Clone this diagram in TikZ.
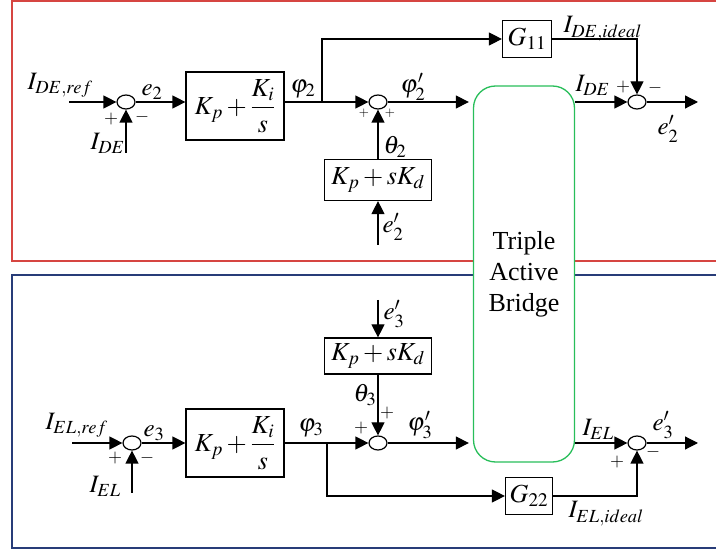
\documentclass[tikz,border=0pt]{standalone}
\usepackage{amsmath}
\usepackage{mathptmx}
\usepackage{fontspec}
\setmainfont{Liberation Serif}
\usetikzlibrary{arrows.meta,shapes.geometric,calc}
\definecolor{redbox}{RGB}{214,69,65}
\definecolor{bluebox}{RGB}{40,60,120}
\definecolor{greenbox}{RGB}{40,190,90}
\begin{document}
\begin{tikzpicture}[x=1pt,y=-1pt, line width=1.2pt,
 sumnode/.style={ellipse,draw,minimum width=18pt,minimum height=14pt,inner sep=0pt},
 blockbox/.style={draw,inner sep=0pt,font=\fontsize{26}{30}\selectfont},
 lbl/.style={font=\fontsize{25}{28}\selectfont,inner sep=0pt,anchor=base west},
 sgn/.style={font=\fontsize{18}{20}\selectfont,inner sep=0pt},
 smallsgn/.style={font=\fontsize{13}{15}\selectfont,inner sep=0pt},
 arr/.style={-{Triangle[length=13pt,width=13pt]}},
 tabbox/.style={draw=greenbox,fill=white,rounded corners=22pt,line width=1.3pt,align=center,font=\fontsize{26}{31}\selectfont}
]
\useasboundingbox (0,0) rectangle (716,553);
% panels
\draw[redbox,line width=1.5pt] (12,1) rectangle (740,261);
\draw[bluebox,line width=1.5pt] (12,275) rectangle (740,548);
% Triple Active Bridge
\node[tabbox,minimum width=101pt,minimum height=376pt] (tab) at (524,274) {Triple\\Active\\Bridge};

%%%%% Top loop
\coordinate (in1) at (69,102);
\node[sumnode] (s1) at (126,102) {};
\coordinate (fb1) at (126,153);
\node[blockbox,minimum width=98pt,minimum height=68pt] (pi1) at (235,106) {$K_p+\dfrac{K_i}{s}$};
\coordinate (b1) at (322,102);
\node[sumnode] (s2) at (378,102) {};
\node[blockbox,minimum width=49pt,minimum height=37pt] (g11) at (527,39) {$G_{11}$};
\node[blockbox,minimum width=107pt,minimum height=41pt] (pd1) at (378,180) {$K_p+sK_d$};
\coordinate (ein1) at (378,245);
\node[sumnode] (s3) at (637,102) {};
\coordinate (out1) at (698,102);

\draw[arr] (in1) -- (s1.west);
\draw[arr] (fb1) -- (s1.south);
\draw[arr] (s1.east) -- (s1 -| pi1.west);
\draw (s1 -| pi1.east) -- (b1);
\draw[arr] (b1) -- (s2.west);
\draw[arr] (b1) -- (b1 |- g11) -- (g11.west);
\draw[arr] (pd1.north) -- (s2.south);
\draw[arr] (ein1) -- (pd1.south);
\draw[arr,shorten >=4pt] (s2.east) -- (s2 -| tab.west);
\draw[arr] (s3 -| tab.east) -- (s3.west);
\draw[arr] (g11.east) -- (g11 -| s3) -- (s3.north);
\draw[arr] (s3.east) -- (out1);

\node[lbl] at (27,90) {$I_{DE,ref}$};
\node[lbl] at (90,150) {$I_{DE}$};
\node[sgn] at (111,119) {$+$};
\node[sgn] at (142,117) {$-$};
\node[lbl] at (141,96) {$e_2$};
\node[lbl] at (290,93) {$\varphi_2$};
\node[lbl] at (400,93) {$\varphi_2'$};
\node[smallsgn] at (364,113) {$+$};
\node[smallsgn] at (390,113) {$+$};
\node[lbl] at (383,154) {$\theta_2$};
\node[lbl] at (382,233) {$e_2'$};
\node[lbl] at (563,33) {$I_{DE,ideal}$};
\node[lbl] at (575,92) {$I_{DE}$};
\node[sgn] at (623,87) {$+$};
\node[sgn] at (655,88) {$-$};
\node[lbl] at (657,135) {$e_2'$};

%%%%% Bottom loop
\coordinate (in2) at (72,443);
\node[sumnode] (s4) at (132,443) {};
\coordinate (fb2) at (132,493);
\node[blockbox,minimum width=98pt,minimum height=68pt] (pi2) at (235,443) {$K_p+\dfrac{K_i}{s}$};
\coordinate (b2) at (327,443);
\node[sumnode] (s5) at (378,443) {};
\node[blockbox,minimum width=47pt,minimum height=37pt] (g22) at (529,496) {$G_{22}$};
\node[blockbox,minimum width=107pt,minimum height=36pt] (pd2) at (378,356) {$K_p+sK_d$};
\coordinate (ein2) at (378,300);
\node[sumnode] (s6) at (637,443) {};
\coordinate (out2) at (698,443);

\draw[arr] (in2) -- (s4.west);
\draw[arr] (fb2) -- (s4.south);
\draw[arr] (s4.east) -- (pi2.west);
\draw (pi2.east) -- (b2);
\draw[arr] (b2) -- (s5.west);
\draw[arr] (b2) -- (b2 |- g22) -- (g22.west);
\draw[arr] (pd2.south) -- (s5.north);
\draw[arr] (ein2) -- (pd2.north);
\draw[arr,shorten >=4pt] (s5.east) -- (s5 -| tab.west);
\draw[arr] (s6 -| tab.east) -- (s6.west);
\draw[arr] (g22.east) -- (g22 -| s6) -- (s6.south);
\draw[arr] (s6.east) -- (out2);

\node[lbl] at (45,430) {$I_{EL,ref}$};
\node[lbl] at (89,493) {$I_{EL}$};
\node[sgn] at (115,458) {$+$};
\node[sgn] at (147,458) {$-$};
\node[lbl] at (143,437) {$e_3$};
\node[lbl] at (298,432) {$\varphi_3$};
\node[lbl] at (407,431) {$\varphi_3'$};
\node[lbl] at (383,320) {$e_3'$};
\node[lbl] at (353,402) {$\theta_3$};
\node[sgn] at (387,413) {$+$};
\node[sgn] at (361,428) {$+$};
\node[lbl] at (582,436) {$I_{EL}$};
\node[lbl] at (652,431) {$e_3'$};
\node[sgn] at (617,462) {$+$};
\node[sgn] at (653,452) {$-$};
\node[lbl] at (568,518) {$I_{EL,ideal}$};
\end{tikzpicture}
\end{document}
